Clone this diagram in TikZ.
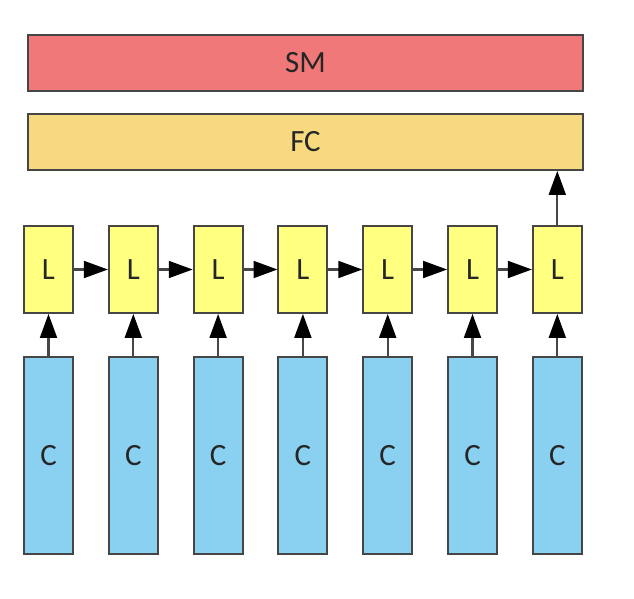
\documentclass[tikz,border=0pt]{standalone}
\usepackage{fontspec}
\setmainfont{Carlito}
\usetikzlibrary{arrows.meta}
\definecolor{smred}{RGB}{240,120,120}
\definecolor{fcyel}{RGB}{247,218,128}
\definecolor{lyel}{RGB}{255,255,128}
\definecolor{cblue}{RGB}{138,208,240}
\definecolor{edge}{RGB}{70,70,70}
\tikzset{
  blk/.style={draw=edge, line width=1.3pt, text=black!85, inner sep=0pt,
    font=\fontsize{22}{26}\selectfont},
  wide/.style={blk, minimum width=13.875cm, minimum height=1.4cm},
  lbox/.style={blk, fill=lyel, minimum width=1.225cm, minimum height=2.175cm},
  cbox/.style={blk, fill=cblue, minimum width=1.225cm, minimum height=4.925cm},
  arr/.style={draw=edge, line width=1.5pt, -{Triangle[length=17pt, width=12pt, color=black]}}
}

\begin{document}
\begin{tikzpicture}
\useasboundingbox (0,0) rectangle (15.85,-14.95);
\node[wide, fill=smred] (sm) at (7.6375,-1.575) {SM};
\node[wide, fill=fcyel] (fc) at (7.6375,-3.55) {FC};
\foreach \i in {1,...,7} {
  \node[lbox] (l\i) at ({1.2125+2.12*(\i-1)},-6.7375) {L};
  \node[cbox] (c\i) at ({1.2125+2.12*(\i-1)},-11.3875) {C};
  \draw[arr] (c\i) -- (l\i);
}
\foreach \i [evaluate=\i as \j using int(\i+1)] in {1,...,6}
  \draw[arr] (l\i) -- (l\j);
\draw[arr] (l7) -- (l7 |- fc.south);
\end{tikzpicture}
\end{document}
